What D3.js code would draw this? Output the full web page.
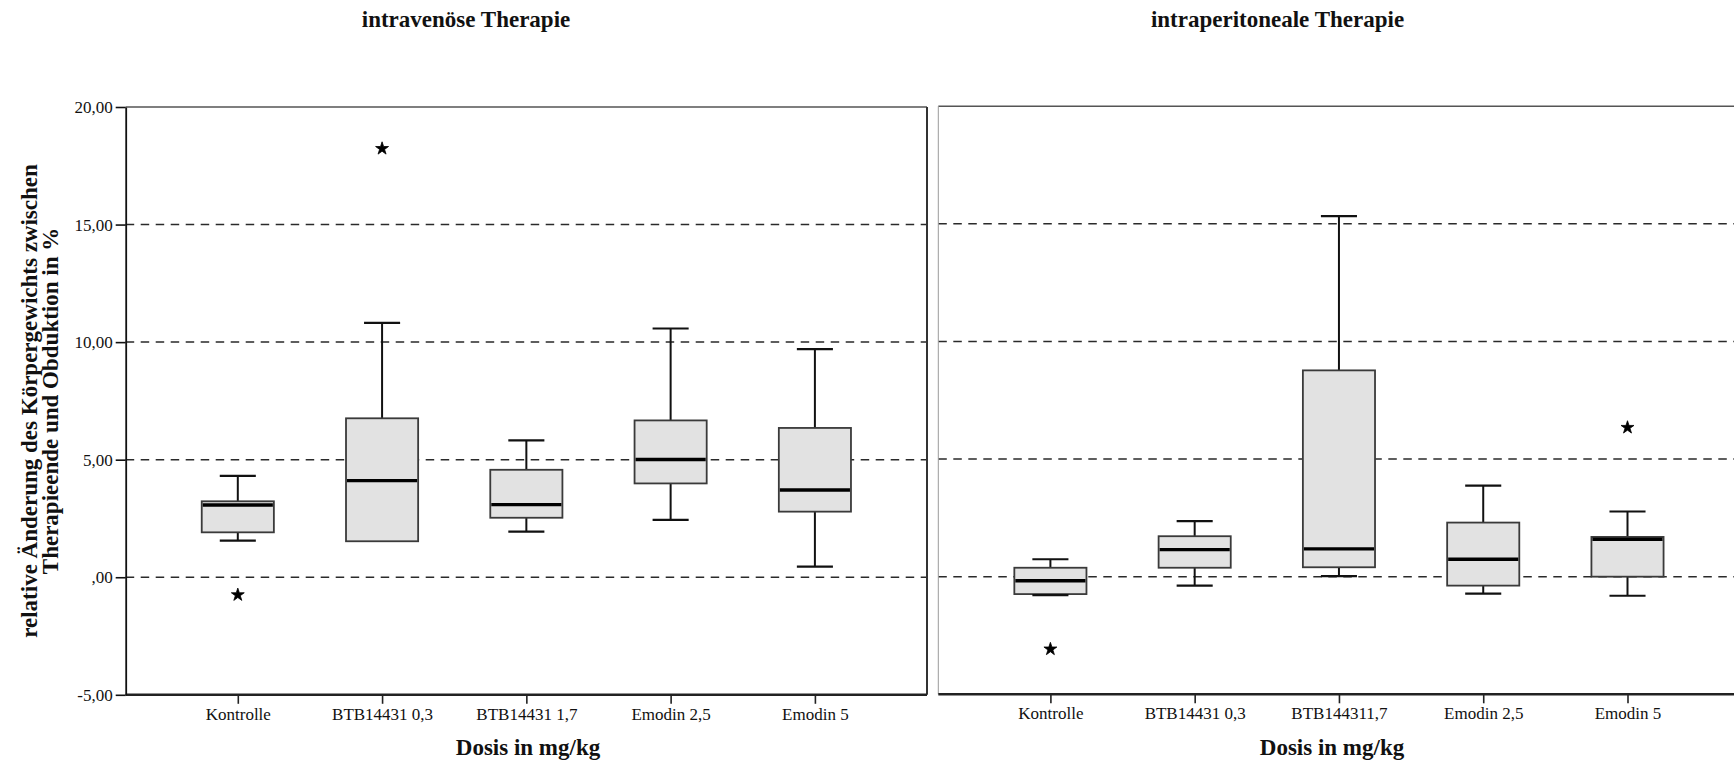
<!DOCTYPE html>
<html lang="de">
<head>
<meta charset="utf-8">
<title>Relative Änderung des Körpergewichts</title>
<script src="https://cdn.jsdelivr.net/npm/d3@7/dist/d3.min.js"></script>
<style>
  html, body { margin: 0; padding: 0; background: #fff; }
  svg { display: block; }
  svg text { font-family: "Liberation Serif", "Times New Roman", serif !important; }
</style>
</head>
<body>
<svg id="chart" width="1734" height="764"></svg>
<script>
// ---- data ---------------------------------------------------------------
const categoriesIV = ["Kontrolle", "BTB14431 0,3", "BTB14431 1,7", "Emodin 2,5", "Emodin 5"];
const categoriesIP = ["Kontrolle", "BTB14431 0,3", "BTB144311,7", "Emodin 2,5", "Emodin 5"];

// intravenöse Therapie
const whiskerLowIV  = [1.56, 1.53, 1.94, 2.44, 0.45];
const q1IV          = [1.91, 1.53, 2.53, 3.99, 2.79];
const medianIV      = [3.07, 4.11, 3.09, 5.01, 3.71];
const q3IV          = [3.23, 6.76, 4.57, 6.67, 6.35];
const whiskerHighIV = [4.31, 10.82, 5.82, 10.58, 9.70];
const outliersIV    = [[-0.75], [18.23], [], [], []];

// intraperitoneale Therapie
const whiskerLowIP  = [-0.78, -0.38, 0.02, -0.72, -0.81];
const q1IP          = [-0.74, 0.38, 0.40, -0.38, 0.00];
const medianIP      = [-0.17, 1.15, 1.18, 0.74, 1.59];
const q3IP          = [0.38, 1.72, 8.77, 2.30, 1.69];
const whiskerHighIP = [0.74, 2.36, 15.33, 3.87, 2.77];
const outliersIP    = [[-3.08], [], [], [], [6.34]];

const yTickValues = [-5, 0, 5, 10, 15, 20];
const yTickLabels = ["-5,00", ",00", "5,00", "10,00", "15,00", "20,00"];
const gridValues  = [0, 5, 10, 15];

const titleIV = "intravenöse Therapie";
const titleIP = "intraperitoneale Therapie";
const xTitle  = "Dosis in mg/kg";
const yTitleLines = ["relative Änderung des Körpergewichts zwischen", "Therapieende und Obduktion in %"];

// ---- drawing ------------------------------------------------------------
const SERIF = '"Liberation Serif", "Times New Roman", serif';
const svg = d3.select("#chart");
svg.append("rect").attr("width", 1734).attr("height", 764).attr("fill", "#fff");

function buildRows(cats, lo, q1, med, q3, hi, outl) {
  return cats.map((c, i) => ({
    cat: c, lo: lo[i], q1: q1[i], med: med[i], q3: q3[i], hi: hi[i], out: outl[i]
  }));
}

function drawPanel(opt) {
  const x = d3.scalePoint().domain(opt.rows.map(d => d.cat)).range(opt.xRange).padding(0.777);
  const y = d3.scaleLinear().domain([-5, 20]).range(opt.yRange);
  const g = svg.append("g");
  const [x0, x1] = opt.xRange;
  const step = x.step();
  const boxW = step * 0.5;
  const capW = boxW * 0.5;

  // dashed reference lines
  g.append("g").selectAll("line").data(gridValues).join("line")
    .attr("x1", x0).attr("x2", x1)
    .attr("y1", d => y(d)).attr("y2", d => y(d))
    .attr("stroke", "#2a2a2a").attr("stroke-width", 1.5)
    .attr("stroke-dasharray", "8.5,6.5");

  // frame
  g.append("line").attr("x1", x0).attr("x2", x1).attr("y1", y(20)).attr("y2", y(20))
    .attr("stroke", "#555").attr("stroke-width", 1.5);
  if (opt.rightBorder) {
    g.append("line").attr("x1", x1).attr("x2", x1).attr("y1", y(20)).attr("y2", y(-5))
      .attr("stroke", "#333").attr("stroke-width", 2);
  }
  if (!opt.yAxis) {
    g.append("line").attr("x1", x0).attr("x2", x0).attr("y1", y(20)).attr("y2", y(-5))
      .attr("stroke", "#9a9a9a").attr("stroke-width", 1);
  }

  // x axis
  const xAxis = d3.axisBottom(x).tickSize(9).tickPadding(4).tickSizeOuter(0);
  const gx = g.append("g").attr("transform", `translate(0,${y(-5)})`).call(xAxis)
    .attr("font-family", null).attr("font-size", null);
  gx.select(".domain").attr("stroke", "#222").attr("stroke-width", 2.4)
    .attr("d", `M${x0},0H${x1}`);
  gx.selectAll(".tick line").attr("stroke", "#222").attr("stroke-width", 1.6);
  gx.selectAll(".tick text").style("font-size", "17px").style("font-family", SERIF).attr("fill", "#111");

  // y axis
  if (opt.yAxis) {
    const yAxis = d3.axisLeft(y).tickValues(yTickValues)
      .tickFormat((d, i) => yTickLabels[i]).tickSize(10).tickPadding(3).tickSizeOuter(0);
    const gy = g.append("g").attr("transform", `translate(${x0},0)`).call(yAxis)
      .attr("font-family", null).attr("font-size", null);
    gy.select(".domain").attr("stroke", "#111").attr("stroke-width", 1.8);
    gy.selectAll(".tick line").attr("stroke", "#111").attr("stroke-width", 1.6);
    gy.selectAll(".tick text").style("font-size", "17px").style("font-family", SERIF).attr("fill", "#111");
  }

  // boxplots
  const bx = g.append("g").selectAll("g").data(opt.rows).join("g");
  // whiskers
  bx.filter(d => d.hi > d.q3).append("line")
    .attr("x1", d => x(d.cat)).attr("x2", d => x(d.cat))
    .attr("y1", d => y(d.q3)).attr("y2", d => y(d.hi))
    .attr("stroke", "#111").attr("stroke-width", 2);
  bx.filter(d => d.lo < d.q1).append("line")
    .attr("x1", d => x(d.cat)).attr("x2", d => x(d.cat))
    .attr("y1", d => y(d.q1)).attr("y2", d => y(d.lo))
    .attr("stroke", "#111").attr("stroke-width", 2);
  // boxes
  bx.append("rect")
    .attr("x", d => x(d.cat) - boxW / 2).attr("width", boxW)
    .attr("y", d => y(d.q3)).attr("height", d => y(d.q1) - y(d.q3))
    .attr("fill", "#e2e2e2").attr("stroke", "#3a3a3a").attr("stroke-width", 1.8);
  // caps
  bx.filter(d => d.hi > d.q3).append("line")
    .attr("x1", d => x(d.cat) - capW / 2).attr("x2", d => x(d.cat) + capW / 2)
    .attr("y1", d => y(d.hi)).attr("y2", d => y(d.hi))
    .attr("stroke", "#111").attr("stroke-width", 2.2);
  bx.filter(d => d.lo < d.q1).append("line")
    .attr("x1", d => x(d.cat) - capW / 2).attr("x2", d => x(d.cat) + capW / 2)
    .attr("y1", d => y(d.lo)).attr("y2", d => y(d.lo))
    .attr("stroke", "#111").attr("stroke-width", 2.2);
  // medians
  bx.append("line")
    .attr("x1", d => x(d.cat) - boxW / 2 + 1).attr("x2", d => x(d.cat) + boxW / 2 - 1)
    .attr("y1", d => y(d.med)).attr("y2", d => y(d.med))
    .attr("stroke", "#000").attr("stroke-width", 3.4);
  // extreme values
  const star = d3.symbol().type(d3.symbolStar).size(52);
  bx.selectAll("path.extreme").data(d => d.out.map(v => ({ cat: d.cat, v }))).join("path")
    .attr("class", "extreme")
    .attr("d", star)
    .attr("transform", p => `translate(${x(p.cat)},${y(p.v)})`)
    .attr("fill", "#000").attr("stroke", "#000").attr("stroke-width", 0.8);

  // panel title and axis title
  svg.append("text").attr("x", opt.titleX).attr("y", 27).attr("text-anchor", "middle")
    .style("font-size", "23px").attr("font-weight", "bold").attr("fill", "#111").text(opt.title);
  svg.append("text").attr("x", opt.xTitleX).attr("y", 755).attr("text-anchor", "middle")
    .style("font-size", "23px").attr("font-weight", "bold").attr("fill", "#111").text(xTitle);
}

drawPanel({
  rows: buildRows(categoriesIV, whiskerLowIV, q1IV, medianIV, q3IV, whiskerHighIV, outliersIV),
  xRange: [125.7, 927], yRange: [694.8, 107],
  yAxis: true, rightBorder: true, title: titleIV, titleX: 466, xTitleX: 528
});
drawPanel({
  rows: buildRows(categoriesIP, whiskerLowIP, q1IP, medianIP, q3IP, whiskerHighIP, outliersIP),
  xRange: [938.3, 1739.6], yRange: [694.3, 106.2],
  yAxis: false, rightBorder: false, title: titleIP, titleX: 1277.5, xTitleX: 1332
});

// y axis title, two lines
const yt = svg.append("text").attr("transform", "translate(0,401) rotate(-90)")
  .attr("text-anchor", "middle").style("font-size", "23px").attr("font-weight", "bold").attr("fill", "#111");
yt.selectAll("tspan").data(yTitleLines).join("tspan")
  .attr("x", 0).attr("y", (d, i) => 37 + i * 21).text(d => d);
</script>
</body>
</html>
